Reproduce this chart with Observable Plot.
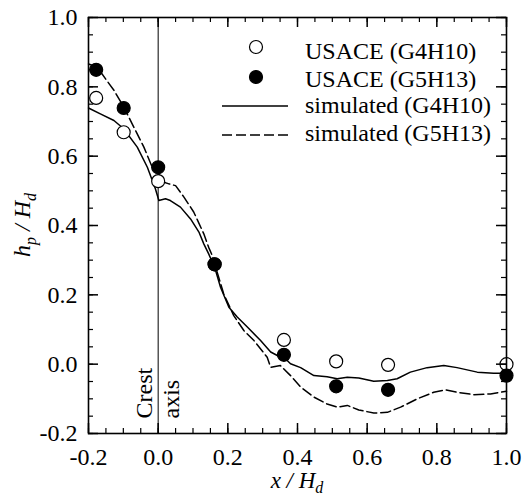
<!DOCTYPE html>
<html><head><meta charset="utf-8">
<script src="https://cdn.jsdelivr.net/npm/d3@7"></script>
<script src="https://cdn.jsdelivr.net/npm/@observablehq/plot@0.6"></script>
<style>body{margin:0;background:#fff;} #chart{width:525px;height:499px;}</style>
</head><body><div id="chart"></div>
<script>
// Measured points (USACE)
const obsX = [-0.178, -0.099, 0.0, 0.162, 0.361, 0.511, 0.660, 1.0];
const usaceG4H10 = [0.768, 0.669, 0.528, 0.288, 0.070, 0.008, -0.002, 0.0];
const usaceG5H13 = [0.849, 0.739, 0.568, 0.288, 0.027, -0.064, -0.074, -0.033];

// Simulated (G4H10) - solid
const simG4H10X = [-0.2, -0.166, -0.127, -0.099, -0.06, -0.031, -0.008, 0.002, 0.021, 0.035, 0.064, 0.093, 0.117, 0.131, 0.145, 0.162, 0.179, 0.203, 0.227, 0.256, 0.294, 0.323, 0.342, 0.361, 0.380, 0.409, 0.447, 0.485, 0.514, 0.543, 0.576, 0.619, 0.658, 0.686, 0.724, 0.772, 0.820, 0.858, 0.916, 0.963, 1.0];
const simG4H10Y = [0.739, 0.722, 0.703, 0.679, 0.626, 0.568, 0.506, 0.472, 0.477, 0.472, 0.453, 0.419, 0.381, 0.347, 0.318, 0.280, 0.222, 0.164, 0.136, 0.107, 0.068, 0.035, 0.025, 0.020, 0.001, -0.010, -0.033, -0.036, -0.042, -0.038, -0.040, -0.049, -0.047, -0.042, -0.023, -0.010, -0.004, -0.010, -0.023, -0.026, -0.026];

// Simulated (G5H13) - dashed
const simG5H13X = [-0.2, -0.175, -0.151, -0.127, -0.099, -0.070, -0.041, -0.017, -0.003, 0.012, 0.031, 0.050, 0.074, 0.102, 0.131, 0.145, 0.155, 0.165, 0.188, 0.217, 0.246, 0.275, 0.313, 0.323, 0.351, 0.380, 0.409, 0.447, 0.485, 0.514, 0.543, 0.576, 0.619, 0.658, 0.696, 0.744, 0.791, 0.825, 0.858, 0.906, 0.954, 1.0];
const simG5H13Y = [0.866, 0.857, 0.823, 0.790, 0.742, 0.684, 0.626, 0.568, 0.559, 0.526, 0.520, 0.515, 0.482, 0.439, 0.376, 0.337, 0.314, 0.280, 0.203, 0.140, 0.097, 0.068, 0.020, -0.009, -0.004, -0.033, -0.066, -0.095, -0.115, -0.124, -0.119, -0.132, -0.141, -0.139, -0.124, -0.100, -0.081, -0.074, -0.081, -0.088, -0.086, -0.078];

const majorTicks = [-0.2, 0.0, 0.2, 0.4, 0.6, 0.8, 1.0];
const minorTicks = d3.range(-4, 21).map(i => +(i * 0.05).toFixed(2));
const crestX = [0];
const crestLabels = ["Crest", "axis"];
const legendLabels = ["USACE (G4H10)", "USACE (G5H13)", "simulated (G4H10)", "simulated (G5H13)"];

const FONT = "'Liberation Serif', 'Times New Roman', serif";
const obs = obsX.map((x, i) => ({x, a: usaceG4H10[i], b: usaceG5H13[i]}));
const s1 = simG4H10X.map((x, i) => ({x, y: simG4H10Y[i]}));
const s2 = simG5H13X.map((x, i) => ({x, y: simG5H13Y[i]}));

const W = 525, H = 499, mL = 88, mR = 19, mT = 17, mB = 66;
const fw = W - mL - mR, fh = H - mT - mB;

const plot = Plot.plot({
  width: W, height: H,
  marginLeft: mL, marginRight: mR, marginTop: mT, marginBottom: mB,
  style: {fontFamily: FONT, fontSize: "24px", color: "black", background: "white"},
  x: {domain: [-0.2, 1.0]},
  y: {domain: [-0.2, 1.0]},
  marks: [
    Plot.ruleX(crestX, {x: d => d, stroke: "black", strokeWidth: 1}),
    Plot.line(s1, {x: "x", y: "y", stroke: "black", strokeWidth: 1.5}),
    Plot.line(s2, {x: "x", y: "y", stroke: "black", strokeWidth: 1.5, strokeDasharray: "10,4"}),
    Plot.dot(obs, {x: "x", y: "a", r: 6.5, fill: "white", stroke: "black", strokeWidth: 1.2}),
    Plot.dot(obs, {x: "x", y: "b", r: 6.5, fill: "black", stroke: "black", strokeWidth: 1.2}),
    // inward ticks
    Plot.tickX(minorTicks, {x: d => d, insetTop: fh - 5, stroke: "black", strokeWidth: 1.2}),
    Plot.tickX(majorTicks, {x: d => d, insetTop: fh - 10, stroke: "black", strokeWidth: 1.5}),
    Plot.tickX(minorTicks, {x: d => d, insetBottom: fh - 5, stroke: "black", strokeWidth: 1.2}),
    Plot.tickX(majorTicks, {x: d => d, insetBottom: fh - 10, stroke: "black", strokeWidth: 1.5}),
    Plot.tickY(minorTicks, {y: d => d, insetRight: fw - 5, stroke: "black", strokeWidth: 1.2}),
    Plot.tickY(majorTicks, {y: d => d, insetRight: fw - 10, stroke: "black", strokeWidth: 1.5}),
    Plot.tickY(minorTicks, {y: d => d, insetLeft: fw - 5, stroke: "black", strokeWidth: 1.2}),
    Plot.tickY(majorTicks, {y: d => d, insetLeft: fw - 10, stroke: "black", strokeWidth: 1.5}),
    Plot.axisX(majorTicks, {tickSize: 0, tickPadding: 14, fontSize: 24, fontFamily: FONT, tickFormat: d => d.toFixed(1), label: null}),
    Plot.axisY(majorTicks, {tickSize: 0, tickPadding: 11, fontSize: 24, fontFamily: FONT, tickFormat: d => d.toFixed(1), label: null}),
    Plot.text([crestLabels[0]], {x: () => crestX[0], text: d => d, frameAnchor: "bottom", rotate: -90, textAnchor: "start", lineAnchor: "bottom", dx: -6, dy: -15, fontSize: 24, fontFamily: FONT}),
    Plot.text([crestLabels[1]], {x: () => crestX[0], text: d => d, frameAnchor: "bottom", rotate: -90, textAnchor: "start", lineAnchor: "bottom", dx: 21, dy: -15, fontSize: 24, fontFamily: FONT}),
    Plot.frame({stroke: "black", strokeWidth: 1.6})
  ]
});

const svg = d3.select(plot);
// legend
const lg = svg.append("g").attr("font-family", FONT).attr("font-size", 24).attr("fill", "black").attr("text-anchor", "start");
const rowBase = [59, 87, 113, 141];
const symY = [47, 77, 106, 135];
legendLabels.forEach((t, i) => {
  lg.append("text").attr("x", 305).attr("y", rowBase[i]).attr("text-anchor", "start").style("font-family", FONT).text(t);
});
lg.append("circle").attr("cx", 256).attr("cy", symY[0]).attr("r", 6.5).attr("fill", "white").attr("stroke", "black").attr("stroke-width", 1.2);
lg.append("circle").attr("cx", 256).attr("cy", symY[1]).attr("r", 6.5).attr("fill", "black").attr("stroke", "black").attr("stroke-width", 1.2);
lg.append("line").attr("x1", 222).attr("x2", 288).attr("y1", symY[2]).attr("y2", symY[2]).attr("stroke", "black").attr("stroke-width", 1.5);
lg.append("line").attr("x1", 222).attr("x2", 288).attr("y1", symY[3]).attr("y2", symY[3]).attr("stroke", "black").attr("stroke-width", 1.5).attr("stroke-dasharray", "10,4");

// axis titles
const xt = svg.append("text").attr("x", mL + fw / 2).attr("y", 488).attr("text-anchor", "middle")
  .style("font-family", FONT).attr("font-size", 23).attr("font-style", "italic").attr("fill", "black");
xt.append("tspan").text("x / H");
xt.append("tspan").attr("font-size", 16).attr("dy", 5).text("d");

const yt = svg.append("text").attr("transform", `translate(30,${mT + fh / 2}) rotate(-90)`).attr("text-anchor", "middle")
  .style("font-family", FONT).attr("font-size", 24).attr("font-style", "italic").attr("fill", "black");
yt.append("tspan").text("h");
yt.append("tspan").attr("font-size", 16).attr("dy", 6).text("p");
yt.append("tspan").attr("dy", -6).text(" / H");
yt.append("tspan").attr("font-size", 16).attr("dy", 6).text("d");

document.getElementById("chart").appendChild(plot);
</script>
</body></html>
